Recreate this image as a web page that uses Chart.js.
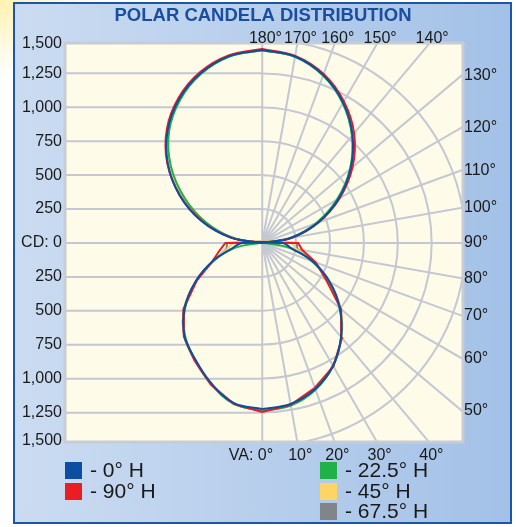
<!DOCTYPE html>
<html>
<head>
<meta charset="utf-8">
<script src="https://cdn.jsdelivr.net/npm/chart.js@4.4.1/dist/chart.umd.min.js"></script>
<style>
html,body{margin:0;padding:0;}
body{width:516px;height:527px;position:relative;overflow:hidden;
  background:radial-gradient(ellipse 110px 80px at 0 0,#fff2b0,#fff9e0 55%,#fff 100%);}
#panel{position:absolute;left:13px;top:2px;width:495px;height:518px;border:2px solid #1c56a6;
  background:linear-gradient(to right,#cbdcf1,#a3c1e7);}
canvas{position:absolute;left:0;top:0;}
</style>
</head>
<body>
<div id="panel"></div>
<canvas id="c" width="516" height="527"></canvas>
<script>
/* DATA */
const title='POLAR CANDELA DISTRIBUTION';
const seriesNames=['0° H','90° H','22.5° H','45° H','67.5° H'];
const seriesColors=['#0c4ea2','#ec1c24','#22b04b','#fed462','#818489'];

const downAngles=[0,10,20,30,40,50,60,70,80,90];        // VA, 0 = straight down
const upAngles=[90,100,110,120,130,140,150,160,170,180]; // VA, 180 = straight up

// candela, lower lobe, right / left half
const blueDownR=[1223,1205,1145,1045,905,748,575,395,215,150];
const blueDownL=[1223,1198,1100,990,893,748,568,388,225,150];
const redDownR=[1245,1210,1135,1050,915,760,545,420,300,265];
const redDownL=[1245,1205,1110,1000,900,760,560,390,320,272];
const greenDownR=[1238,1216,1150,1046,905,745,570,385,200,20];
const greenDownL=[1238,1204,1105,992,888,742,562,380,200,20];
const yellowDownR=[1232,1210,1145,1045,910,755,578,405,255,210];
const yellowDownL=[1232,1200,1104,994,894,752,566,386,262,210];
const grayDownR=[1235,1208,1140,1042,908,752,575,405,265,250];
const grayDownL=[1235,1202,1106,996,896,752,566,384,272,250];

// candela, upper lobe, right / left half
const blueUpR=[0,220,438,650,852,1036,1194,1317,1395,1422];
const blueUpL=[0,240,480,705,910,1085,1225,1330,1398,1422];
const redUpR=[0,220,440,660,870,1055,1205,1325,1400,1430];
const redUpL=[0,235,470,700,915,1095,1235,1340,1405,1430];
const greenUpR=[0,205,420,635,845,1030,1188,1312,1393,1420];
const greenUpL=[0,220,440,660,880,1070,1215,1325,1395,1420];
const yellowUpR=[0,212,428,642,848,1032,1190,1314,1394,1420];
const yellowUpL=[0,228,455,675,890,1075,1220,1327,1396,1420];
const grayUpR=[0,215,432,645,850,1034,1192,1315,1394,1420];
const grayUpL=[0,232,465,690,900,1080,1222,1328,1397,1420];

const yTickValues=[-1500,-1250,-1000,-750,-500,-250,0,250,500,750,1000,1250,1500];
const yTickLabels=['1,500','1,250','1,000','750','500','250','CD: 0','250','500','750','1,000','1,250','1,500'];
const cdRings=[250,500,750,1000,1250,1500];
const gridAngles=[0,10,20,30,40,50,60,70,80,90,100,110,120,130,140,150,160,170,180];
const topAngles=[180,170,160,150,140];
const rightAngles=[130,120,110,100,90,80,70,60,50];
const bottomAngles=[0,10,20,30,40];

const FONT='"Liberation Sans", Arial, Helvetica, sans-serif';
const rad=d=>d*Math.PI/180;

/* polar -> x/y (cd units): right half 0..90 then left half back */
function lobe(angles,right,left){
  const pts=angles.map((a,i)=>({x:right[i]*Math.sin(rad(a)),y:-right[i]*Math.cos(rad(a))}));
  for(let i=angles.length-1;i>=0;i--){
    const a=angles[i];
    pts.push({x:-left[i]*Math.sin(rad(a)),y:-left[i]*Math.cos(rad(a))});
  }
  return pts;
}

const lobes=[
  [lobe(downAngles,blueDownR,blueDownL),lobe(upAngles,blueUpR,blueUpL)],
  [lobe(downAngles,redDownR,redDownL),lobe(upAngles,redUpR,redUpL)],
  [lobe(downAngles,greenDownR,greenDownL),lobe(upAngles,greenUpR,greenUpL)],
  [lobe(downAngles,yellowDownR,yellowDownL),lobe(upAngles,yellowUpR,yellowUpL)],
  [lobe(downAngles,grayDownR,grayDownL),lobe(upAngles,grayUpR,grayUpL)]
];

const datasets=[];
lobes.forEach((pair,i)=>pair.forEach((pts,k)=>datasets.push({
  label:seriesNames[i],
  data:pts,
  borderColor:seriesColors[i],
  borderWidth:2,
  pointRadius:0,
  fill:false,
  tension:(i===1&&k===0)?0:0.38
})));

/* GRID, LABELS, LEGEND */
const polarGrid={
  id:'polarGrid',
  beforeDatasetsDraw(chart){
    const {ctx,chartArea:a,scales:{x,y}}=chart;
    const cx=x.getPixelForValue(0), cy=y.getPixelForValue(0);
    ctx.save();
    ctx.fillStyle='#fffbe9';
    ctx.fillRect(a.left,a.top,a.width,a.height);
    ctx.beginPath();ctx.rect(a.left,a.top,a.width,a.height);ctx.clip();
    ctx.strokeStyle='#c3c8d2';ctx.lineWidth=2;
    ctx.beginPath();
    cdRings.forEach(v=>[v,-v].forEach(s=>{
      const py=y.getPixelForValue(s);
      ctx.moveTo(a.left,py);ctx.lineTo(cx,py);
    }));
    ctx.moveTo(a.left,cy);ctx.lineTo(cx,cy);
    ctx.stroke();
    cdRings.forEach(v=>{
      const r=x.getPixelForValue(v)-cx;
      ctx.beginPath();ctx.arc(cx,cy,r,-Math.PI/2,Math.PI/2);ctx.stroke();
    });
    gridAngles.forEach(g=>{
      ctx.beginPath();ctx.moveTo(cx,cy);
      ctx.lineTo(x.getPixelForValue(4000*Math.sin(rad(g))),y.getPixelForValue(-4000*Math.cos(rad(g))));
      ctx.stroke();
    });
    ctx.restore();
  },
  afterDraw(chart){
    const {ctx,chartArea:a,scales:{x,y}}=chart;
    ctx.save();
    ctx.strokeStyle='#c8ccd4';ctx.lineWidth=3;
    ctx.strokeRect(a.left-1,a.top-1,a.width+2,a.height+2);

    // title
    ctx.fillStyle='#1b4e9f';
    ctx.font='bold 18.5px '+FONT;
    ctx.textAlign='center';ctx.textBaseline='alphabetic';
    ctx.fillText(title,263,21);

    ctx.fillStyle='#1a1a1a';
    ctx.font='16px '+FONT;
    const deg=(num,px,py,prefix)=>{
      const w=ctx.measureText(String(num)).width;
      const x0=px-w/2;
      ctx.textAlign='left';ctx.fillText(num+'°',x0,py);
      if(prefix){ctx.textAlign='right';ctx.fillText(prefix,x0,py);}
    };
    topAngles.forEach(g=>{
      const t=y.max/(-Math.cos(rad(g)));
      deg(g,x.getPixelForValue(t*Math.sin(rad(g))),a.top-1);
    });
    bottomAngles.forEach(g=>{
      const t=y.min/(-Math.cos(rad(g)));
      deg(g,x.getPixelForValue(t*Math.sin(rad(g))),a.bottom+19,g===0?'VA: ':'');
    });
    ctx.textBaseline='middle';ctx.textAlign='left';
    rightAngles.forEach(g=>{
      const vy=-x.max*Math.cos(rad(g))/Math.sin(rad(g));
      ctx.fillText(g+'°',a.right+2,y.getPixelForValue(vy));
    });

    // legend
    const slots=[[65,462],[65,483],[320,462],[320,483],[320,503]];
    ctx.font='21px '+FONT;
    seriesNames.forEach((n,i)=>{
      const [lx,ly]=slots[i];
      ctx.fillStyle=seriesColors[i];
      ctx.fillRect(lx,ly,17,17);
      ctx.fillStyle='#1a1a1a';
      ctx.fillText('- '+n,lx+25,ly+9.5);
    });
    ctx.restore();
  }
};

Chart.defaults.font.family=FONT;

new Chart(document.getElementById('c'),{
  type:'line',
  data:{datasets},
  options:{
    responsive:false,
    animation:false,
    layout:{padding:{left:0,right:54,top:44,bottom:86}},
    plugins:{legend:{display:false},tooltip:{enabled:false},title:{display:false}},
    scales:{
      x:{type:'linear',display:false,min:-1448,max:1474},
      y:{
        type:'linear',min:-1459,max:1466,
        grid:{display:false,drawTicks:false},
        border:{display:false},
        afterFit(s){s.width=66;},
        afterBuildTicks(s){
          s.ticks=yTickValues.map(v=>({value:Math.max(s.min,Math.min(s.max,v))}));
        },
        ticks:{
          autoSkip:false,padding:4,color:'#1a1a1a',font:{size:16},
          callback:(v,i)=>yTickLabels[i]
        }
      }
    }
  },
  plugins:[polarGrid]
});
</script>
</body>
</html>
